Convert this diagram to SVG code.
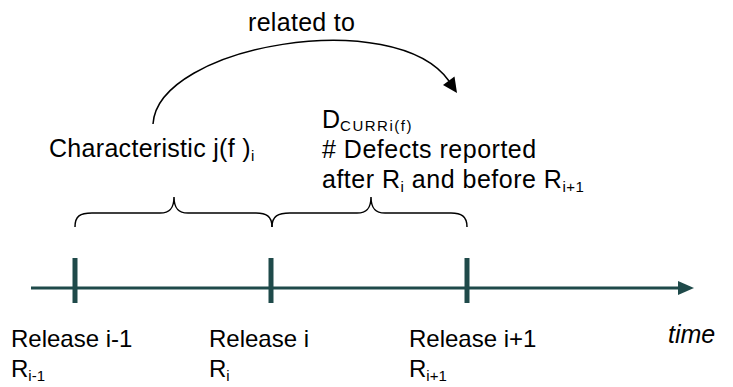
<svg xmlns="http://www.w3.org/2000/svg" width="733" height="387" viewBox="0 0 733 387">
  <defs>
    <style>
      .lbl { font-family: "Liberation Sans", Arial, sans-serif; font-size: 25px; fill: #000; }
      .rel { font-size: 24px; }
      .sub { font-size: 15px; }
      .brace { fill: none; stroke: #000; stroke-width: 1.5; }
      .axis { stroke: #1f4a4a; stroke-width: 3; fill: none; }
      .tick { stroke: #1f4a4a; stroke-width: 5; }
    </style>
  </defs>

  <rect width="733" height="387" fill="#fff"/>

  <!-- connectors: "related to" arc and the time axis -->
  <g id="connectors">
    <path d="M153,124 C158,45 395,5 449,81" fill="none" stroke="#000" stroke-width="1.5"/>
    <path d="M457,93 L443,85 L454.5,76.5 Z" fill="#000"/>
    <line x1="31" y1="288" x2="680" y2="288" class="axis"/>
    <path d="M678,281 L694,288 L678,295 Z" fill="#1f4a4a"/>
  </g>

  <g id="relation-label">
    <text class="lbl" x="248" y="31" letter-spacing="0.3">related to</text>
  </g>

  <g id="characteristic">
    <text class="lbl" x="49" y="157" letter-spacing="0.3">Characteristic j(f )<tspan class="sub" dy="4">i</tspan></text>
  </g>

  <g id="defects">
    <text class="lbl" x="322" y="128">D<tspan class="sub" font-size="16" dy="3" letter-spacing="1.5">CURRi(f)</tspan></text>
    <text class="lbl" x="322" y="158" letter-spacing="0.5"># Defects reported</text>
    <text class="lbl" x="322" y="188" letter-spacing="0.5">after R<tspan class="sub" dy="4">i</tspan><tspan dy="-4"> and before R</tspan><tspan class="sub" dy="4">i+1</tspan></text>
  </g>

  <!-- curly braces spanning each release interval -->
  <g id="brace-prev">
    <path class="brace" d="M75,227 C75,216 80,213 92,213 L160,213 C170,213 174,208 174,197 C174,208 178,213 188,213 L256,213 C266,213 272,216 272,227"/>
  </g>
  <g id="brace-curr">
    <path class="brace" d="M272,227 C272,216 278,213 290,213 L357,213 C367,213 371,208 371,197 C371,208 375,213 385,213 L451,213 C461,213 467,216 467,227"/>
  </g>

  <g id="release-prev">
    <line class="tick" x1="75" y1="258" x2="75" y2="303"/>
    <text class="lbl rel" x="11" y="347">Release i-1</text>
    <text class="lbl rel" x="11" y="377">R<tspan class="sub" dy="4">i-1</tspan></text>
  </g>
  <g id="release-curr">
    <line class="tick" x1="271" y1="258" x2="271" y2="303"/>
    <text class="lbl rel" x="209" y="347">Release i</text>
    <text class="lbl rel" x="209" y="377">R<tspan class="sub" dy="4">i</tspan></text>
  </g>
  <g id="release-next">
    <line class="tick" x1="467" y1="258" x2="467" y2="303"/>
    <text class="lbl rel" x="409" y="347">Release i+1</text>
    <text class="lbl rel" x="409" y="377">R<tspan class="sub" dy="4">i+1</tspan></text>
  </g>

  <g id="time-label">
    <text class="lbl" x="668" y="343" font-style="italic" font-size="31">time</text>
  </g>
</svg>
